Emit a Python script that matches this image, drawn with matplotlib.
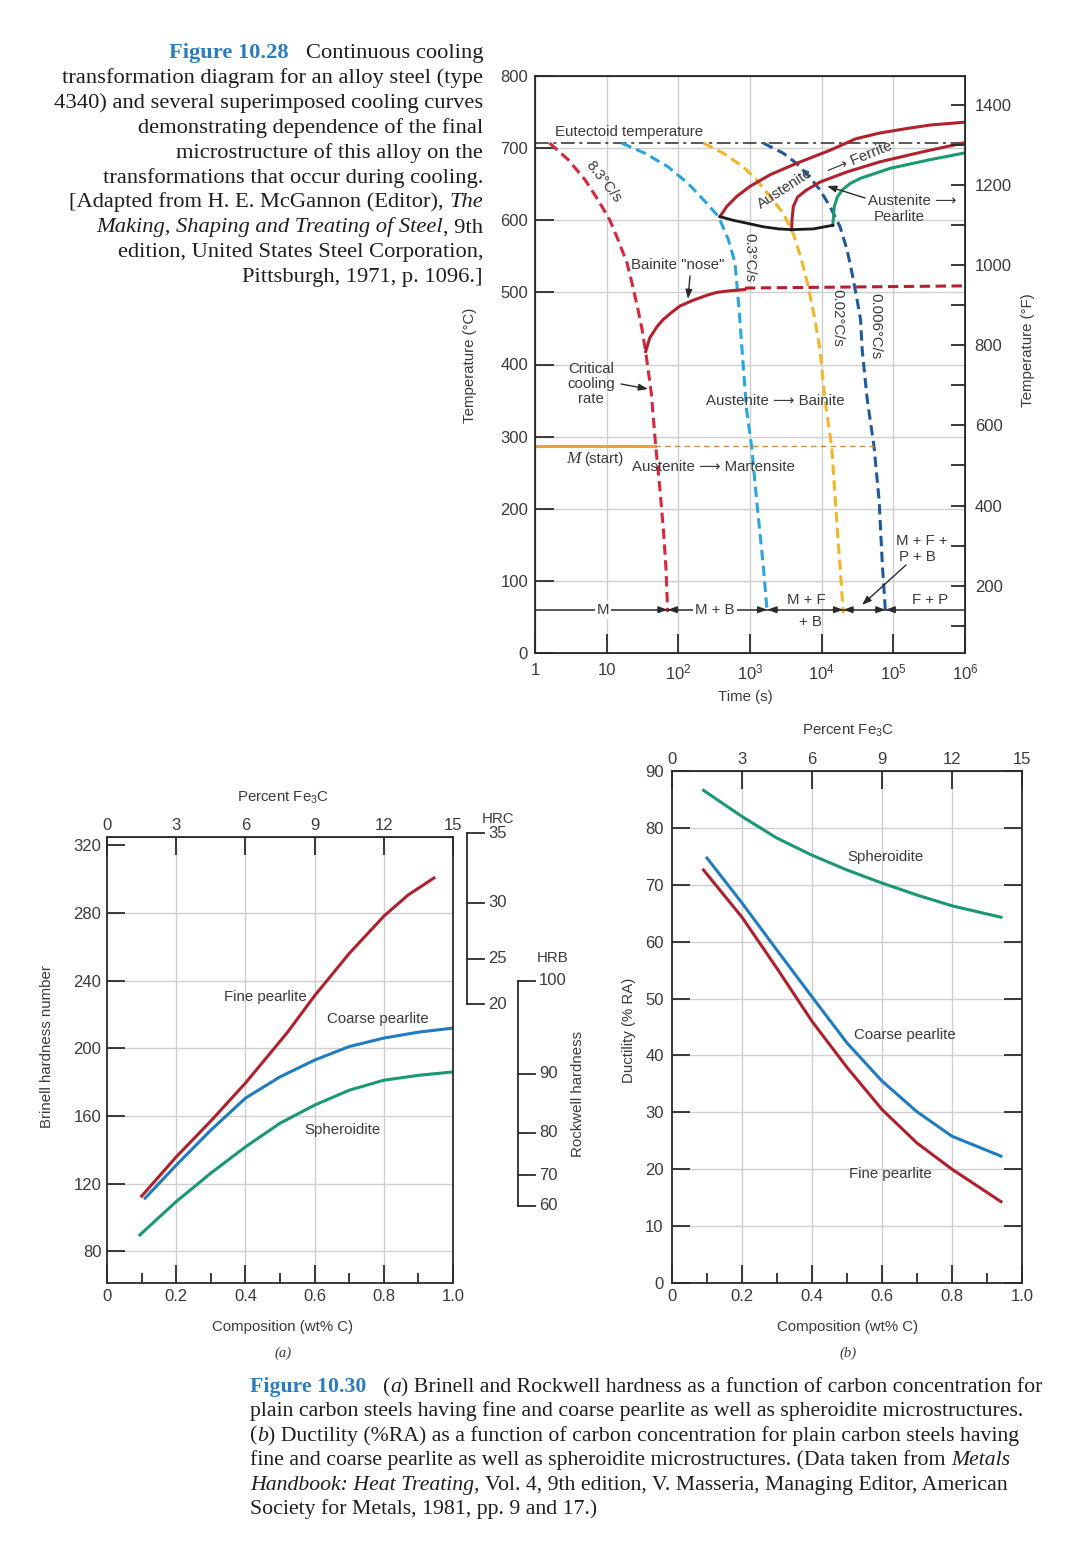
import matplotlib
matplotlib.use("Agg")
import matplotlib.pyplot as plt
from matplotlib.ticker import NullLocator
from matplotlib.transforms import blended_transform_factory

W, H = 1080, 1560
SANS = ["Liberation Sans", "DejaVu Sans"]
SERIF = ["Liberation Serif", "DejaVu Serif"]
INK = "#3a3a3a"
FRAME = "#2b2b2b"
GRID = "#cfcfcf"
FIG_BLUE = "#2a7dc0"

plt.rcParams["font.family"] = SANS
plt.rcParams["mathtext.fontset"] = "custom"
plt.rcParams["mathtext.rm"] = "Liberation Sans"
plt.rcParams["mathtext.it"] = "Liberation Sans:italic"
plt.rcParams["mathtext.bf"] = "Liberation Sans:bold"
plt.rcParams["text.color"] = INK
plt.rcParams["axes.edgecolor"] = FRAME
plt.rcParams["xtick.color"] = FRAME
plt.rcParams["ytick.color"] = FRAME
plt.rcParams["xtick.labelcolor"] = INK
plt.rcParams["ytick.labelcolor"] = INK

# ---------------- Figure 10.28: CCT diagram (time in s, temperature in C) ----
rate83_t = [1.6, 2.9, 5.0, 7.6, 11.1, 14.4, 19.2, 23.3, 27.4, 31.1, 35, 42, 48, 55, 62, 67, 71]
rate83_T = [707, 684, 656, 628, 600, 573, 541, 507, 476, 449, 418, 360, 290, 230, 170, 120, 57]

rate03_t = [16.2, 34, 72, 137, 236, 364, 500, 617, 700, 806, 897, 1054, 1238, 1534, 1743]
rate03_T = [707, 693, 674, 651, 626, 605, 573, 541, 480, 397, 337, 286, 212, 120, 55]

rate002_t = [223, 424, 806, 1238, 1900, 2900, 4000, 5240, 6500, 8070, 9480, 11130, 13800, 16200, 18040, 20050]
rate002_T = [707, 693, 674, 656, 633, 610, 582, 545, 508, 462, 420, 351, 286, 184, 120, 55]

rate0006_t = [1534, 2900, 4440, 6800, 9480, 13070, 18040, 22600, 26600, 31300, 34900, 36800,
              43300, 53800, 63300, 70500, 77900]
rate0006_T = [707, 693, 679, 660, 642, 619, 591, 559, 526, 489, 462, 420, 351, 286, 212, 120, 55]

bainite_t = [35, 40, 50, 61, 80, 105, 160, 250, 345, 500, 850]
bainite_T = [418, 437, 452, 462, 472, 481, 489, 496, 500, 502, 504]
bainite_ext_t = [850, 1e6]
bainite_ext_T = [506, 509]

ferrite_t = [381, 473, 652, 1000, 1900, 4480, 13060, 30000, 65200, 150000, 324600, 1e6]
ferrite_T = [605, 619, 633, 647, 663, 679, 697, 713, 721, 727, 732, 736]

pearlite_s_t = [3813, 3850, 4020, 4600, 6150, 9500, 22500, 65000, 2.6e5, 9.4e5]
pearlite_s_T = [587, 600, 619, 632, 642, 653, 667, 681, 695, 707]

nose_low_t = [381, 580, 896, 1530, 2500, 3813, 7640, 14300]
nose_low_T = [605, 600, 596, 591, 588, 587, 588, 593]

pearlite_f_t = [14300, 15000, 16500, 19400, 25000, 34500, 90000, 3.25e5, 9.5e5]
pearlite_f_T = [593, 619, 632, 642, 651, 658, 672, 684, 693]

eutectoid_T = 707
ms_T = 287
ms_solid_end_t = 47
ms_dash_end_t = 53800
row_T = 60

time_ticks = [1, 10, 1e2, 1e3, 1e4, 1e5, 1e6]
time_labels = ["1", "10", "$10^2$", "$10^3$", "$10^4$", "$10^5$", "$10^6$"]
tempC_ticks = list(range(0, 801, 100))
tempF_ticks = [200, 400, 600, 800, 1000, 1200, 1400]
tempF_minor = list(range(100, 1401, 100))

# ---------------- Figure 10.30 (a): hardness vs composition ----
hb_fine_c = [0.10, 0.2, 0.3, 0.4, 0.52, 0.6, 0.7, 0.8, 0.87, 0.945]
hb_fine = [112.6, 135.8, 157, 179.4, 209, 231, 256, 278, 290.5, 300.6]
hb_coarse_c = [0.11, 0.2, 0.3, 0.4, 0.5, 0.6, 0.7, 0.8, 0.9, 1.0]
hb_coarse = [111.4, 130.9, 151.6, 170.5, 183.1, 193.0, 201, 206, 209.5, 211.9]
hb_sph_c = [0.095, 0.2, 0.3, 0.4, 0.5, 0.6, 0.7, 0.8, 0.9, 1.0]
hb_sph = [89.7, 109.4, 126.2, 141.7, 155.7, 166.4, 175.2, 181.1, 184, 186.0]
hb_ticks = [80, 120, 160, 200, 240, 280, 320]
hrc_ticks = [35, 30, 25, 20]
hrc_hb = [327, 286, 253, 226]
hrb_ticks = [100, 90, 80, 70, 60]
hrb_hb = [240, 185, 150, 125, 107]

# ---------------- Figure 10.30 (b): ductility vs composition ----
ra_sph_c = [0.09, 0.2, 0.3, 0.4, 0.5, 0.6, 0.7, 0.8, 0.94]
ra_sph = [86.6, 82, 78.2, 75.2, 72.6, 70.3, 68.2, 66.3, 64.3]
ra_coarse_c = [0.10, 0.2, 0.3, 0.4, 0.5, 0.6, 0.7, 0.8, 0.94]
ra_coarse = [74.7, 66.8, 58.5, 50.3, 42.2, 35.5, 30.1, 25.8, 22.3]
ra_fine_c = [0.09, 0.2, 0.3, 0.4, 0.5, 0.6, 0.7, 0.8, 0.94]
ra_fine = [72.6, 64.3, 55.3, 46.0, 37.9, 30.5, 24.6, 20.0, 14.3]
ra_ticks = list(range(0, 91, 10))

comp_ticks = [0, 0.2, 0.4, 0.6, 0.8, 1.0]
comp_labels = ["0", "0.2", "0.4", "0.6", "0.8", "1.0"]
comp_minor = [0.1, 0.3, 0.5, 0.7, 0.9]
fe3c_ticks = [0, 3, 6, 9, 12, 15]

RED_DASH = "#d7263d"
RED = "#b3202e"
LBLUE = "#2aa6de"
YELLOW = "#f2b62a"
DBLUE = "#1f5b9a"
GREEN = "#1b9a70"
ORANGE = "#f0a035"
C_FINE = "#b0202c"
C_COARSE = "#1f7cc0"
C_SPH = "#1a9874"

fig = plt.figure(figsize=(W / 100, H / 100), dpi=100)


def P(x, y):
    return (x / W, 1 - y / H)


def ax_px(x0, y0, x1, y1):
    return fig.add_axes([x0 / W, 1 - y1 / H, (x1 - x0) / W, (y1 - y0) / H])


def ptext(x, y, s, **kw):
    kw.setdefault("fontsize", 10.8)
    kw.setdefault("ha", "center")
    kw.setdefault("va", "center")
    return fig.text(x / W, 1 - y / H, s, **kw)


ARW = dict(arrowstyle="-|>,head_length=0.55,head_width=0.2", color=FRAME, lw=1.0,
           shrinkA=0, shrinkB=0)

# ======================= CCT diagram =======================
ax = ax_px(535, 76, 965, 653)
ax.set_xscale("log")
ax.set_xlim(1, 1e6)
ax.set_ylim(0, 800)
ax.set_xticks(time_ticks, time_labels)
ax.xaxis.set_minor_locator(NullLocator())
ax.set_yticks(tempC_ticks)
ax.grid(True, color=GRID, lw=1)
ax.set_axisbelow(True)
ax.tick_params(direction="in", length=14, width=1.3, labelsize=12)
ax.tick_params(axis="y", pad=5)
ax.tick_params(axis="x", pad=7)
for s in ax.spines.values():
    s.set_linewidth(1.3)

dash = dict(lw=2.2, dashes=(3.4, 1.8))
ax.axhline(eutectoid_T, color=FRAME, lw=1.1, dashes=(9, 3, 2, 3))
ax.plot(rate83_t, rate83_T, color=RED_DASH, **dash)
ax.plot(rate03_t, rate03_T, color=LBLUE, **dash)
ax.plot(rate002_t, rate002_T, color=YELLOW, **dash)
ax.plot(rate0006_t, rate0006_T, color=DBLUE, **dash)
ax.plot(bainite_ext_t, bainite_ext_T, color=RED, **dash)
ax.plot(bainite_t, bainite_T, color=RED, lw=2.2)
ax.plot(ferrite_t, ferrite_T, color=RED, lw=2.2)
ax.plot(pearlite_s_t, pearlite_s_T, color=RED, lw=2.2)
ax.plot(pearlite_f_t, pearlite_f_T, color=GREEN, lw=2.2)
ax.plot(nose_low_t, nose_low_T, color="#1a1a1a", lw=2.0)
ax.plot([1, ms_solid_end_t], [ms_T, ms_T], color=ORANGE, lw=2.2)
ax.plot([ms_solid_end_t, ms_dash_end_t], [ms_T, ms_T], color="#c98a4a", lw=1.0, dashes=(4, 3))

# bottom row of product regions
ax.plot([1, 1e6], [row_T, row_T], color=FRAME, lw=1.1, zorder=4)
for e in [rate83_t[-1], rate03_t[-1], rate002_t[-1], rate0006_t[-1]]:
    ax.annotate("", xy=(e, row_T), xytext=(e / 1.4, row_T), arrowprops=ARW, zorder=5)
    ax.annotate("", xy=(e, row_T), xytext=(e * 1.4, row_T), arrowprops=ARW, zorder=5)

box = dict(facecolor="white", edgecolor="none", pad=1.5)
ptext(603, 610, "M", bbox=box, zorder=6)
ptext(715, 610, "M + B", bbox=box, zorder=6)
ptext(806, 600, "M + F")
ptext(810, 622, "+ B")
ptext(930, 600, "F + P")
ptext(922, 541, "M + F +")
ptext(917, 557, "P + B")
ax.annotate("", xy=P(862, 605), xycoords="figure fraction", xytext=P(906, 565),
            textcoords="figure fraction", arrowprops=ARW)

ARROW = "\u27f6"
ptext(555, 132, "Eutectoid temperature", ha="left")
ptext(604, 182, "8.3°C/s", rotation=-52)
ptext(631, 265, 'Bainite "nose"', ha="left")
ax.annotate("", xy=P(688, 299), xycoords="figure fraction", xytext=P(690, 276),
            textcoords="figure fraction", arrowprops=ARW)
ptext(749, 258, "0.3°C/s", rotation=-90)
ptext(837, 318, "0.02°C/s", rotation=-90)
ptext(875, 326, "0.006°C/s", rotation=-90)
ptext(785, 189, "Austenite", rotation=33)
ptext(860, 158, ARROW + " Ferrite", rotation=22)
ptext(868, 201, "Austenite " + ARROW, ha="left")
ptext(874, 217, "Pearlite", ha="left")
ax.annotate("", xy=P(827, 186), xycoords="figure fraction", xytext=P(865, 198),
            textcoords="figure fraction", arrowprops=ARW)
ptext(591, 384, "Critical\ncooling\nrate", linespacing=1.05)
ax.annotate("", xy=P(648, 389), xycoords="figure fraction", xytext=P(621, 384),
            textcoords="figure fraction", arrowprops=ARW)
ptext(706, 401, "Austenite " + ARROW + " Bainite", ha="left")
ptext(566, 459, "M", ha="left", family=SERIF, style="italic", fontsize=12.5)
ptext(584, 459, "(start)", ha="left")
ptext(632, 467, "Austenite " + ARROW + " Martensite", ha="left")

axF = ax.twinx()
axF.set_ylim(0 * 9 / 5 + 32, 800 * 9 / 5 + 32)
axF.set_yticks(tempF_ticks)
axF.set_yticks(tempF_minor, minor=True)
axF.tick_params(which="both", direction="in", length=10, width=1.3, labelsize=12, pad=7)

ptext(470, 365, "Temperature (°C)", rotation=90)
ptext(1028, 350, "Temperature (°F)", rotation=90)
ptext(745, 697, "Time (s)")


# ======================= composition charts =======================
def comp_axes(x0, y0, x1, y1, ylim, yticks, ygrid, right):
    a = ax_px(x0, y0, x1, y1)
    a.set_xlim(0, 1)
    a.set_ylim(*ylim)
    a.set_xticks(comp_ticks, comp_labels)
    a.set_xticks(comp_minor, minor=True)
    a.set_yticks(yticks)
    for g in comp_ticks[1:-1]:
        a.axvline(g, color=GRID, lw=1, zorder=0)
    for g in ygrid:
        a.axhline(g, color=GRID, lw=1, zorder=0)
    a.tick_params(which="major", direction="in", length=13, width=1.3, labelsize=12, pad=4)
    a.tick_params(which="minor", direction="in", length=7.5, width=1.3)
    a.tick_params(axis="y", right=right)
    for s in a.spines.values():
        s.set_linewidth(1.3)
    top = a.secondary_xaxis("top", functions=(lambda c: c * 15, lambda p: p / 15))
    top.set_xticks(fe3c_ticks)
    top.tick_params(direction="in", length=13, width=1.3, labelsize=12, pad=3)
    return a


# (a) hardness
axA = comp_axes(107, 837, 453, 1283, (61.3, 324.8), hb_ticks, hb_ticks[:-1], False)
axA.plot(hb_sph_c, hb_sph, color=C_SPH, lw=2.2)
axA.plot(hb_coarse_c, hb_coarse, color=C_COARSE, lw=2.2)
axA.plot(hb_fine_c, hb_fine, color=C_FINE, lw=2.2)

tr = blended_transform_factory(axA.transAxes, axA.transData)


def xa(px):
    return (px - 107) / 346


for vx, hbs, labs in [(467, hrc_hb, hrc_ticks), (518, hrb_hb, hrb_ticks)]:
    axA.plot([xa(vx), xa(vx)], [hbs[0], hbs[-1]], transform=tr, clip_on=False,
             color=FRAME, lw=1.3)
    for hb, lab in zip(hbs, labs):
        axA.plot([xa(vx), xa(vx + 17)], [hb, hb], transform=tr, clip_on=False,
                 color=FRAME, lw=1.3)
        axA.text(xa(vx + 21), hb, str(lab), transform=tr, ha="left", va="center", fontsize=12)

ptext(265, 997, "Fine pearlite")
ptext(378, 1019, "Coarse pearlite")
ptext(342, 1130, "Spheroidite")
ptext(498, 819, "HRC")
ptext(553, 958, "HRB")
ptext(578, 1094, "Rockwell hardness", rotation=90)
ptext(47, 1047, "Brinell hardness number", rotation=90)
ptext(283, 798, "Percent Fe$_3$C")
ptext(283, 1327, "Composition (wt% C)")
ptext(283, 1353, "(a)", family=SERIF, style="italic", fontsize=10.5)

# (b) ductility
axB = comp_axes(672, 771, 1022, 1283, (0, 90), ra_ticks, ra_ticks[1:-1], True)
axB.tick_params(axis="y", pad=6)
axB.plot(ra_sph_c, ra_sph, color=C_SPH, lw=2.2)
axB.plot(ra_coarse_c, ra_coarse, color=C_COARSE, lw=2.2)
axB.plot(ra_fine_c, ra_fine, color=C_FINE, lw=2.2)
ptext(885, 857, "Spheroidite")
ptext(905, 1035, "Coarse pearlite")
ptext(890, 1174, "Fine pearlite")
ptext(629, 1030, "Ductility (% RA)", rotation=90)
ptext(848, 731, "Percent Fe$_3$C")
ptext(848, 1327, "Composition (wt% C)")
ptext(848, 1353, "(b)", family=SERIF, style="italic", fontsize=10.5)

# ======================= captions =======================
N = {"color": "#1e1e1e"}
I = {"color": "#1e1e1e", "style": "italic"}
B = {"color": FIG_BLUE, "weight": "bold"}


def seg_w(s, size, kw):
    r = fig.canvas.get_renderer()
    a = fig.text(0, 0, "|" + s + "|", fontsize=size, family=SERIF, **kw)
    b = fig.text(0, 0, "||", fontsize=size, family=SERIF, **kw)
    w = a.get_window_extent(r).width - b.get_window_extent(r).width
    a.remove()
    b.remove()
    return w


def rich_line(x, y, parts, size, align="left"):
    widths = [seg_w(s, size, kw) for s, kw in parts]
    cur = x - sum(widths) if align == "right" else x
    for (s, kw), w in zip(parts, widths):
        lead = len(s) - len(s.lstrip(" "))
        off = seg_w(" " * lead, size, kw) if lead else 0
        if s.strip():
            fig.text((cur + off) / W, 1 - y / H, s.strip(), fontsize=size, family=SERIF,
                     ha="left", va="baseline", **kw)
        cur += w


top_caption = [
    [("Figure 10.28", B), ("   Continuous cooling", N)],
    [("transformation diagram for an alloy steel (type", N)],
    [("4340) and several superimposed cooling curves", N)],
    [("demonstrating dependence of the final", N)],
    [("microstructure of this alloy on the", N)],
    [("transformations that occur during cooling.", N)],
    [("[Adapted from H. E. McGannon (Editor), ", N), ("The", I)],
    [("Making, Shaping and Treating of Steel", I), (", 9th", N)],
    [("edition, United States Steel Corporation,", N)],
    [("Pittsburgh, 1971, p. 1096.]", N)],
]
top_size = 10 * 420 / seg_w(top_caption[1][0][0], 10, N)
for i, parts in enumerate(top_caption):
    rich_line(483, 58 + i * 24.9, parts, top_size, align="right")

bottom_caption = [
    [("Figure 10.30", B), ("   (", N), ("a", I),
     (") Brinell and Rockwell hardness as a function of carbon concentration for", N)],
    [("plain carbon steels having fine and coarse pearlite as well as spheroidite microstructures.", N)],
    [("(", N), ("b", I), (") Ductility (%RA) as a function of carbon concentration for plain carbon steels having", N)],
    [("fine and coarse pearlite as well as spheroidite microstructures. (Data taken from ", N), ("Metals", I)],
    [("Handbook: Heat Treating,", I), (" Vol. 4, 9th edition, V. Masseria, Managing Editor, American", N)],
    [("Society for Metals, 1981, pp. 9 and 17.)", N)],
]
bot_size = 10 * 773 / seg_w(bottom_caption[1][0][0], 10, N)
for i, parts in enumerate(bottom_caption):
    rich_line(250, 1392 + i * 24.4, parts, bot_size)

fig.savefig("out.png", dpi=100, facecolor="white")
